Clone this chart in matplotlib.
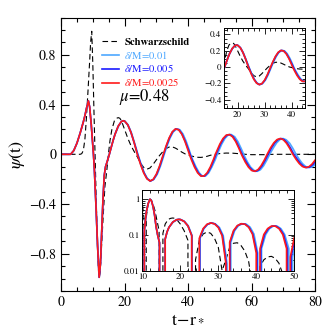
import matplotlib
matplotlib.use("Agg")
import matplotlib.pyplot as plt
from matplotlib.ticker import MultipleLocator, NullFormatter
import numpy as np

plt.rcParams['font.family'] = ['STIXGeneral', 'DejaVu Serif']
plt.rcParams['mathtext.fontset'] = 'stix'

# Schwarzschild waveform (dashed)
t_schw = [0, 6.0, 6.5, 7.0, 7.5, 8.0, 8.5, 9.0, 9.3, 9.65, 10.0, 10.4, 10.7, 11.0, 11.5,
          11.8, 12.0, 12.3, 12.8, 13.3, 13.8, 14.4, 14.9, 15.4, 16.0, 16.8, 17.5, 18.0,
          18.5, 19.0, 20.0, 21.0, 22.0, 23.5, 24, 25, 26, 27, 28, 29, 30, 31, 32, 33,
          34, 35, 36, 37, 38, 39, 39.3, 41, 42, 43, 44, 45, 46, 47, 48, 48.5, 50, 52,
          54, 56, 58, 60, 64, 67, 80]
psi_schw = [0, 0, 0.005, 0.03, 0.12, 0.30, 0.52, 0.75, 0.90, 0.99, 0.72, 0.30, 0.0, -0.30, -0.76,
            -0.95, -0.99, -0.95, -0.72, -0.48, -0.26, -0.13, 0.0, 0.11, 0.20, 0.27, 0.29, 0.295,
            0.29, 0.27, 0.20, 0.13, 0.07, 0.0, -0.02, -0.07, -0.105, -0.12, -0.11, -0.08, -0.045, -0.01, 0.02, 0.045,
            0.058, 0.06, 0.05, 0.035, 0.018, 0.004, 0.0, -0.013, -0.02, -0.024, -0.025, -0.022, -0.016, -0.008, -0.002, 0.0, 0.006, 0.01,
            0.009, 0.005, 0.0, -0.003, -0.003, 0.0, 0.0]

# wormhole waveforms (delta/M = 0.0025, 0.005, 0.01), common early part
t_early = [0, 3.0, 4.0, 5.0, 6.0, 7.0, 7.5, 8.0, 8.6, 9.0, 9.5, 10.2, 10.5, 11.0, 11.5,
           12.0, 12.4, 12.8, 13.2, 13.6, 14.0, 14.5]
psi_early = [0, 0, 0.03, 0.09, 0.17, 0.26, 0.31, 0.37, 0.43, 0.38, 0.24, 0.0, -0.13, -0.42, -0.74,
             -0.99, -0.88, -0.62, -0.36, -0.17, -0.10, -0.06]

psi_late = [0.0, 0.076, 0.121, 0.162, 0.227, 0.264, 0.27, 0.267, 0.237, 0.177, 0.095, 0.0,
            -0.080, -0.149, -0.196, -0.215, -0.202, -0.160, -0.095, -0.016, 0.0,
            0.062, 0.130, 0.180, 0.204, 0.198, 0.163, 0.105, 0.031, 0.0,
            -0.041, -0.102, -0.149, -0.175, -0.175, -0.149, -0.102, -0.041, 0.0,
            0.024, 0.082, 0.127, 0.154, 0.159, 0.141, 0.102, 0.048, 0.0,
            -0.011, -0.062, -0.103, -0.130, -0.137, -0.124, -0.092, -0.047, 0.0,
            0.053, 0.092, 0.118, 0.127, 0.117, 0.089, 0.048, 0.0,
            -0.040, -0.074, -0.098, -0.107, -0.101, -0.080, -0.047]

t_late_0025 = [15.2, 16.0, 16.5, 17.0, 18.0, 19.0, 19.6, 20.0, 21.0, 22.0, 23.0, 24.0,
               25, 26, 27, 28, 29, 30, 31, 32, 32.2,
               33, 34, 35, 36, 37, 38, 39, 40, 40.4,
               41, 42, 43, 44, 45, 46, 47, 48, 48.6,
               49, 50, 51, 52, 53, 54, 55, 56, 56.8,
               57, 58, 59, 60, 61, 62, 63, 64, 64.9,
               66, 67, 68, 69, 70, 71, 72, 73,
               74, 75, 76, 77, 78, 79, 80]
t_late_005 = [15.2, 16.0, 16.5, 17.0, 18.0, 19.0, 19.6, 20.0, 21.0, 22.0, 23.0, 24.1,
              25.1, 26.1, 27.1, 28.1, 29.1, 30.1, 31.1, 32.1, 32.3,
              33.1, 34.1, 35.1, 36.1, 37.1, 38.1, 39.1, 40.2, 40.6,
              41.2, 42.2, 43.2, 44.2, 45.2, 46.2, 47.2, 48.2, 48.8,
              49.2, 50.2, 51.2, 52.2, 53.2, 54.2, 55.2, 56.2, 57.0,
              57.2, 58.3, 59.3, 60.3, 61.3, 62.3, 63.3, 64.3, 65.2,
              66.3, 67.3, 68.3, 69.3, 70.3, 71.3, 72.3, 73.3,
              74.4, 75.4, 76.4, 77.4, 78.4, 79.4, 80.4]
t_late_01 = [15.2, 16.0, 16.5, 17.0, 18.1, 19.1, 19.7, 20.1, 21.1, 22.1, 23.1, 24.2,
             25.2, 26.2, 27.2, 28.2, 29.2, 30.3, 31.3, 32.3, 32.5,
             33.3, 34.3, 35.3, 36.4, 37.4, 38.4, 39.4, 40.4, 40.8,
             41.4, 42.5, 43.5, 44.5, 45.5, 46.5, 47.5, 48.6, 49.2,
             49.6, 50.6, 51.6, 52.6, 53.6, 54.7, 55.7, 56.7, 57.5,
             57.7, 58.7, 59.7, 60.8, 61.8, 62.8, 63.8, 64.8, 65.7,
             66.9, 67.9, 68.9, 69.9, 70.9, 72.0, 73.0, 74.0,
             75.0, 76.0, 77.0, 78.1, 79.1, 80.1, 81.1]

t_0025 = np.array(t_early + t_late_0025)
t_005 = np.array(t_early + t_late_005)
t_01 = np.array(t_early + t_late_01)
psi = np.array(psi_early + psi_late)
t_s = np.array(t_schw)
psi_s = np.array(psi_schw)

c_lb = '#4ea8ff'
c_b = '#1a1aff'
c_r = '#ff1a1a'
lw = 1.2


def draw(ax, f=lambda y: y):
    ax.plot(t_s, f(psi_s), color='black', lw=0.8, dashes=(5, 3), label='Schwarzschild')
    ax.plot(t_01, f(psi), color=c_lb, lw=lw, label=r'$\delta$/M=0.01')
    ax.plot(t_005, f(psi), color=c_b, lw=lw, label=r'$\delta$/M=0.005')
    ax.plot(t_0025, f(psi), color=c_r, lw=lw, label=r'$\delta$/M=0.0025')


fig = plt.figure(figsize=(3.32, 3.32), dpi=100)
ax = fig.add_axes([0.184, 0.1235, 0.765, 0.8235])
draw(ax)
ax.set_xlim(0, 80)
ax.set_ylim(-1.1, 1.1)
ax.xaxis.set_major_locator(MultipleLocator(20))
ax.xaxis.set_minor_locator(MultipleLocator(5))
ax.set_yticks([-0.8, -0.4, 0, 0.4, 0.8])
ax.set_yticklabels(['\u22120.8', '\u22120.4', '0', '0.4', '0.8'])
ax.yaxis.set_minor_locator(MultipleLocator(0.1))
ax.tick_params(which='both', direction='in', top=True, right=True, labelsize=10, width=0.8)
ax.tick_params(which='major', length=6)
ax.tick_params(which='minor', length=3)
ax.set_xlabel(r'$\mathrm{t\!-\!r_*}$', fontsize=13, labelpad=1)
ax.set_ylabel(r'$\psi\mathrm{(t)}$', fontsize=13, labelpad=2)
for s in ax.spines.values():
    s.set_linewidth(0.8)

leg = ax.legend(loc='upper left', bbox_to_anchor=(0.14, 0.948), frameon=False, fontsize=7.7,
                handlelength=1.6, handletextpad=0.5, labelspacing=0.18, borderpad=0)
for txt, line in zip(leg.get_texts(), leg.get_lines()):
    txt.set_color(line.get_color())
leg.get_texts()[0].set_fontweight('bold')
ax.text(0.33, 0.71, r'$\mu$=0.48', transform=ax.transAxes, ha='center', va='center', fontsize=12)

# top inset
ax1 = fig.add_axes([0.675, 0.675, 0.244, 0.241])
draw(ax1)
ax1.set_xlim(15, 45)
ax1.set_ylim(-0.5, 0.48)
ax1.xaxis.set_major_locator(MultipleLocator(10))
ax1.xaxis.set_minor_locator(MultipleLocator(2))
ax1.set_yticks([-0.4, -0.2, 0, 0.2, 0.4])
ax1.set_yticklabels(['\u22120.4', '\u22120.2', '0', '0.2', '0.4'])
ax1.yaxis.set_minor_locator(MultipleLocator(0.05))
ax1.tick_params(which='both', direction='in', top=True, right=True, labelsize=6.5, width=0.6, pad=2)
ax1.tick_params(which='major', length=4)
ax1.tick_params(which='minor', length=2)
for s in ax1.spines.values():
    s.set_linewidth(0.7)

# bottom inset, log |psi|
ax2 = fig.add_axes([0.429, 0.185, 0.457, 0.243])
draw(ax2, np.abs)
ax2.set_yscale('log')
ax2.set_xlim(10, 50)
ax2.set_ylim(0.01, 1.8)
ax2.xaxis.set_major_locator(MultipleLocator(10))
ax2.xaxis.set_minor_locator(MultipleLocator(2))
ax2.set_yticks([0.01, 0.1, 1])
ax2.set_yticklabels(['0.01', '0.1', '1'])
ax2.tick_params(which='both', direction='in', top=True, right=True, labelsize=6.5, width=0.6, pad=2)
ax2.tick_params(which='major', length=4)
ax2.tick_params(which='minor', length=2)
ax2.yaxis.set_minor_formatter(NullFormatter())
for s in ax2.spines.values():
    s.set_linewidth(0.7)

fig.savefig('out.png', dpi=100)
